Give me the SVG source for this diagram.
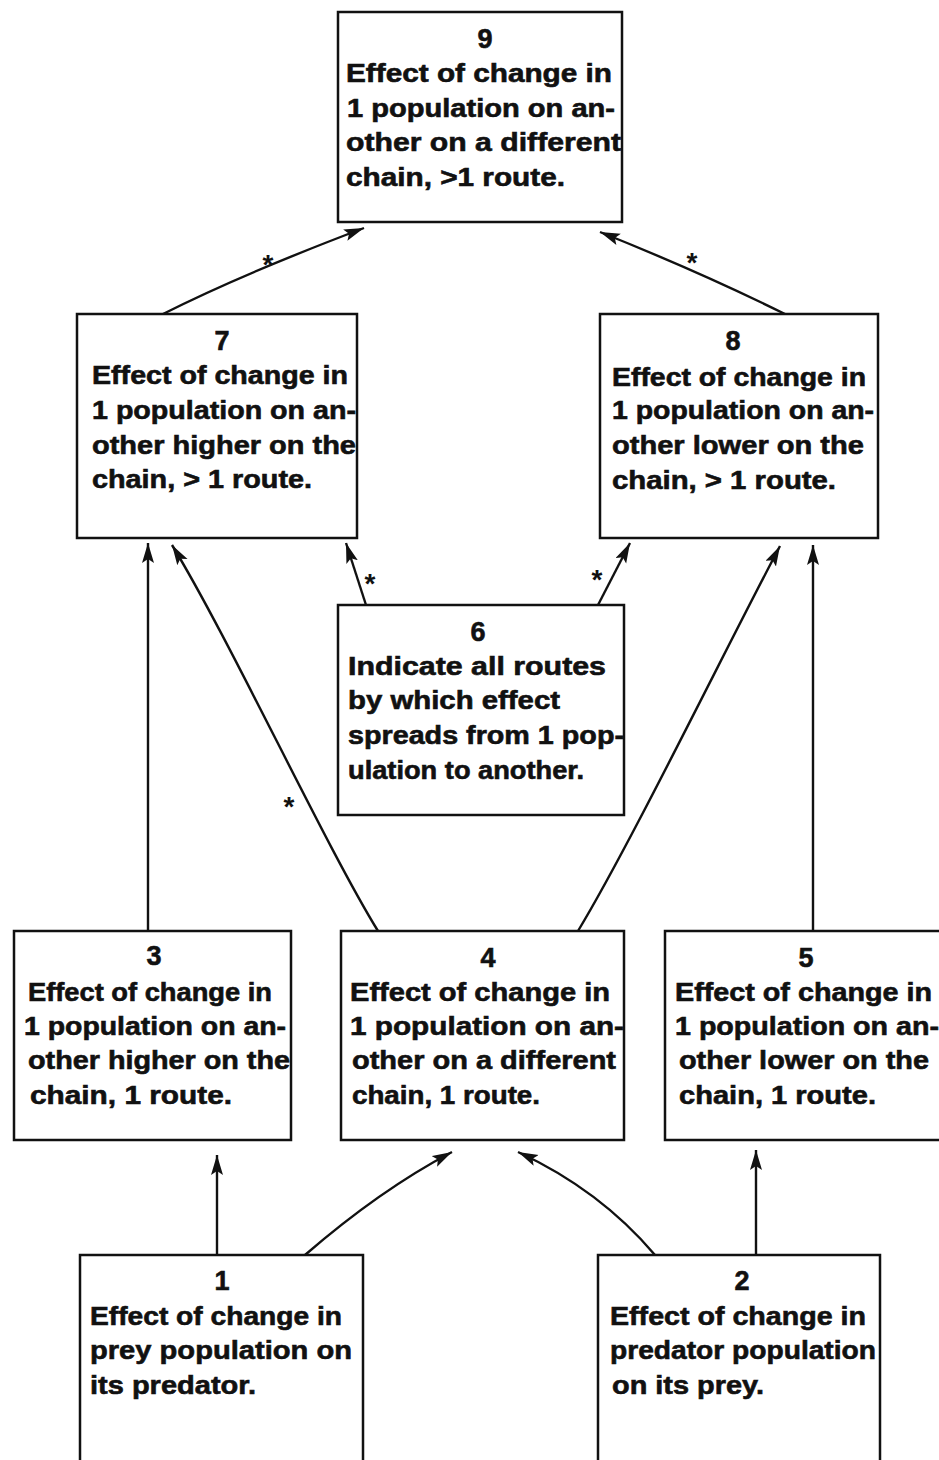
<svg xmlns="http://www.w3.org/2000/svg" width="939" height="1460" viewBox="0 0 939 1460">
<defs>
<style>
.box{fill:#fff;stroke:#111;stroke-width:2.5}
.t{font-family:"Liberation Sans",Arial,sans-serif;font-weight:bold;font-size:25px;fill:#111;stroke:#111;stroke-width:0.6}
.n{font-family:"Liberation Sans",Arial,sans-serif;font-weight:bold;font-size:27px;fill:#111;stroke:#111;stroke-width:0.6;text-anchor:middle}
.ast{font-family:"Liberation Sans",Arial,sans-serif;font-weight:bold;font-size:28px;fill:#111;text-anchor:middle}
.c{fill:none;stroke:#111;stroke-width:2.4}
</style>
<marker id="ah" markerUnits="userSpaceOnUse" markerWidth="22" markerHeight="14" refX="20" refY="6" orient="auto">
<path d="M0,0 L20,6 L0,12 L4,6 z" fill="#111"/>
</marker>
</defs>
<rect width="939" height="1460" fill="#fff"/>
<g id="connectors">
<path class="c" d="M163,314 Q240,275 364,228" marker-end="url(#ah)"/>
<path class="c" d="M785,314 Q700,272 600,232" marker-end="url(#ah)"/>
<path class="c" d="M366,605 L346,543" marker-end="url(#ah)"/>
<path class="c" d="M598,605 L630,543" marker-end="url(#ah)"/>
<path class="c" d="M148,931 L148,543" marker-end="url(#ah)"/>
<path class="c" d="M378,931 C325,845 230,640 172,545" marker-end="url(#ah)"/>
<path class="c" d="M578,931 C630,845 725,650 780,546" marker-end="url(#ah)"/>
<path class="c" d="M813,931 L813,545" marker-end="url(#ah)"/>
<path class="c" d="M217,1255 L217,1155" marker-end="url(#ah)"/>
<path class="c" d="M305,1255 Q380,1190 452,1152" marker-end="url(#ah)"/>
<path class="c" d="M655,1255 Q600,1190 518,1152" marker-end="url(#ah)"/>
<path class="c" d="M756,1255 L756,1150" marker-end="url(#ah)"/>
<text class="ast" x="268" y="274">*</text>
<text class="ast" x="692" y="272">*</text>
<text class="ast" x="370" y="593">*</text>
<text class="ast" x="597" y="589">*</text>
<text class="ast" x="289" y="816">*</text>
</g>
<g id="node9">
<rect class="box" x="338" y="12" width="284" height="210"/>
<text class="n" x="485" y="48">9</text>
<text class="t" x="346" y="82" textLength="266" lengthAdjust="spacingAndGlyphs">Effect of change in</text>
<text class="t" x="347" y="117" textLength="268" lengthAdjust="spacingAndGlyphs">1 population on an-</text>
<text class="t" x="346" y="151" textLength="275" lengthAdjust="spacingAndGlyphs">other on a different</text>
<text class="t" x="346" y="186" textLength="219" lengthAdjust="spacingAndGlyphs">chain, &gt;1 route.</text>
</g>
<g id="node7">
<rect class="box" x="77" y="314" width="280" height="224"/>
<text class="n" x="222" y="350">7</text>
<text class="t" x="92" y="384" textLength="256" lengthAdjust="spacingAndGlyphs">Effect of change in</text>
<text class="t" x="92" y="419" textLength="264" lengthAdjust="spacingAndGlyphs">1 population on an-</text>
<text class="t" x="92" y="454" textLength="264" lengthAdjust="spacingAndGlyphs">other higher on the</text>
<text class="t" x="92" y="488" textLength="220" lengthAdjust="spacingAndGlyphs">chain, &gt; 1 route.</text>
</g>
<g id="node8">
<rect class="box" x="600" y="314" width="278" height="224"/>
<text class="n" x="733" y="350">8</text>
<text class="t" x="612" y="386" textLength="254" lengthAdjust="spacingAndGlyphs">Effect of change in</text>
<text class="t" x="612" y="419" textLength="262" lengthAdjust="spacingAndGlyphs">1 population on an-</text>
<text class="t" x="612" y="454" textLength="252" lengthAdjust="spacingAndGlyphs">other lower on the</text>
<text class="t" x="612" y="489" textLength="224" lengthAdjust="spacingAndGlyphs">chain, &gt; 1 route.</text>
</g>
<g id="node6">
<rect class="box" x="338" y="605" width="286" height="210"/>
<text class="n" x="478" y="641">6</text>
<text class="t" x="348" y="675" textLength="258" lengthAdjust="spacingAndGlyphs">Indicate all routes</text>
<text class="t" x="348" y="709" textLength="212" lengthAdjust="spacingAndGlyphs">by which effect</text>
<text class="t" x="348" y="744" textLength="276" lengthAdjust="spacingAndGlyphs">spreads from 1 pop-</text>
<text class="t" x="348" y="779" textLength="236" lengthAdjust="spacingAndGlyphs">ulation to another.</text>
</g>
<g id="node3">
<rect class="box" x="14" y="931" width="277" height="209"/>
<text class="n" x="154" y="965">3</text>
<text class="t" x="28" y="1001" textLength="244" lengthAdjust="spacingAndGlyphs">Effect of change in</text>
<text class="t" x="24" y="1035" textLength="262" lengthAdjust="spacingAndGlyphs">1 population on an-</text>
<text class="t" x="28" y="1069" textLength="262" lengthAdjust="spacingAndGlyphs">other higher on the</text>
<text class="t" x="30" y="1104" textLength="202" lengthAdjust="spacingAndGlyphs">chain, 1 route.</text>
</g>
<g id="node4">
<rect class="box" x="341" y="931" width="283" height="209"/>
<text class="n" x="488" y="967">4</text>
<text class="t" x="350" y="1001" textLength="260" lengthAdjust="spacingAndGlyphs">Effect of change in</text>
<text class="t" x="350" y="1035" textLength="274" lengthAdjust="spacingAndGlyphs">1 population on an-</text>
<text class="t" x="352" y="1069" textLength="264" lengthAdjust="spacingAndGlyphs">other on a different</text>
<text class="t" x="352" y="1104" textLength="188" lengthAdjust="spacingAndGlyphs">chain, 1 route.</text>
</g>
<g id="node5">
<rect class="box" x="665" y="931" width="290" height="209"/>
<text class="n" x="806" y="967">5</text>
<text class="t" x="675" y="1001" textLength="257" lengthAdjust="spacingAndGlyphs">Effect of change in</text>
<text class="t" x="675" y="1035" textLength="264" lengthAdjust="spacingAndGlyphs">1 population on an-</text>
<text class="t" x="679" y="1069" textLength="250" lengthAdjust="spacingAndGlyphs">other lower on the</text>
<text class="t" x="679" y="1104" textLength="197" lengthAdjust="spacingAndGlyphs">chain, 1 route.</text>
</g>
<g id="node1">
<rect class="box" x="80" y="1255" width="283" height="220"/>
<text class="n" x="222" y="1290">1</text>
<text class="t" x="90" y="1325" textLength="252" lengthAdjust="spacingAndGlyphs">Effect of change in</text>
<text class="t" x="90" y="1359" textLength="262" lengthAdjust="spacingAndGlyphs">prey population on</text>
<text class="t" x="90" y="1394" textLength="166" lengthAdjust="spacingAndGlyphs">its predator.</text>
</g>
<g id="node2">
<rect class="box" x="598" y="1255" width="282" height="220"/>
<text class="n" x="742" y="1290">2</text>
<text class="t" x="610" y="1325" textLength="256" lengthAdjust="spacingAndGlyphs">Effect of change in</text>
<text class="t" x="610" y="1359" textLength="266" lengthAdjust="spacingAndGlyphs">predator population</text>
<text class="t" x="612" y="1394" textLength="152" lengthAdjust="spacingAndGlyphs">on its prey.</text>
</g>
</svg>
